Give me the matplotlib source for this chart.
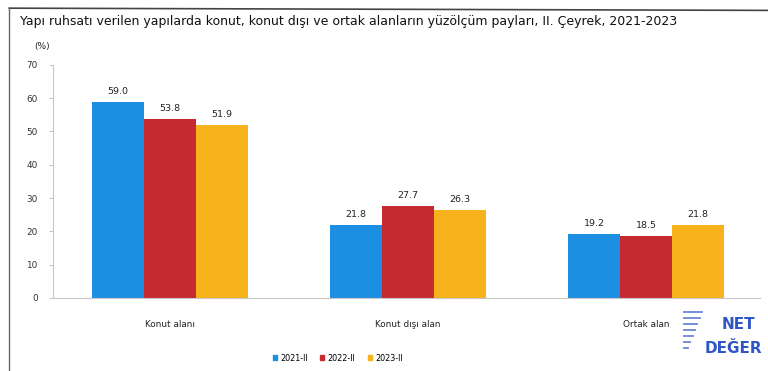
import numpy as np
import matplotlib.pyplot as plt
from matplotlib.lines import Line2D

categories = ['Konut alanı', 'Konut dışı alan', 'Ortak alan']
periods = ['2021-II', '2022-II', '2023-II']
share_2021 = [59.0, 21.8, 19.2]
share_2022 = [53.8, 27.7, 18.5]
share_2023 = [51.9, 26.3, 21.8]
yticks = [0, 10, 20, 30, 40, 50, 60, 70]

colors = ['#1c8fe2', '#c42a30', '#f7b21c']
series = [share_2021, share_2022, share_2023]

fig = plt.figure(figsize=(7.68, 3.71), dpi=100)
ax = fig.add_axes([0.069, 0.197, 0.921, 0.628])

x = np.arange(len(categories))
width = 0.218
for i, (vals, col) in enumerate(zip(series, colors)):
    pos = x + (i - 1) * width
    ax.bar(pos, vals, width=width, color=col, label=periods[i])
    for p, v in zip(pos, vals):
        ax.text(p, v + 1.8, f'{v:.1f}', ha='center', va='bottom',
                fontsize=6.8, color='#222222')

ax.set_xlim(-0.49, 2.48)
ax.set_ylim(0, 70)
ax.set_yticks(yticks)
ax.set_yticklabels([str(t) for t in yticks], fontsize=6.4, color='#333333')
ax.set_xticks(x)
ax.set_xticklabels(categories, fontsize=6.4, color='#222222')
ax.tick_params(axis='x', length=0, pad=16)
ax.tick_params(axis='y', length=3, width=0.6, color='#bbbbbb', pad=8)
for side in ['top', 'right']:
    ax.spines[side].set_visible(False)
ax.spines['left'].set_color('#c8c8c8')
ax.spines['left'].set_linewidth(0.8)
ax.spines['bottom'].set_color('#c8c8c8')
ax.spines['bottom'].set_linewidth(0.8)

# title and unit
fig.text(0.026, 0.942, 'Yapı ruhsatı verilen yapılarda konut, konut dışı ve ortak alanların '
         'yüzölçüm payları, II. Çeyrek, 2021-2023', fontsize=9.0, color='#111111',
         va='center', ha='left')
fig.text(0.045, 0.875, '(%)', fontsize=6.5, color='#222222', va='center')

# outer frame lines
fig.add_artist(Line2D([0.012, 1.0], [0.978, 0.972], color='#444444', lw=1.2))
fig.add_artist(Line2D([0.012, 0.012], [0.0, 0.978], color='#666666', lw=1.0))

handles = [plt.Rectangle((0, 0), 1, 1, color=c) for c in colors]
fig.legend(handles, periods, loc='center', bbox_to_anchor=(0.44, 0.035),
           ncol=3, frameon=False, fontsize=5.8, handlelength=0.5,
           handleheight=0.5, handletextpad=0.4, columnspacing=1.6)

# watermark in the lower right corner
fig.text(0.940, 0.124, 'NET', fontsize=11, fontweight='bold', color='#2f55c8',
         va='center', ha='left')
fig.text(0.918, 0.060, 'DEĞER', fontsize=11, fontweight='bold', color='#2f55c8',
         va='center', ha='left')
for k in range(7):
    fig.add_artist(Line2D([0.890, 0.914 - k * 0.003], [0.158 - k * 0.016] * 2,
                          color='#6a86d8', lw=1.3))

fig.savefig('out.png', dpi=100)
